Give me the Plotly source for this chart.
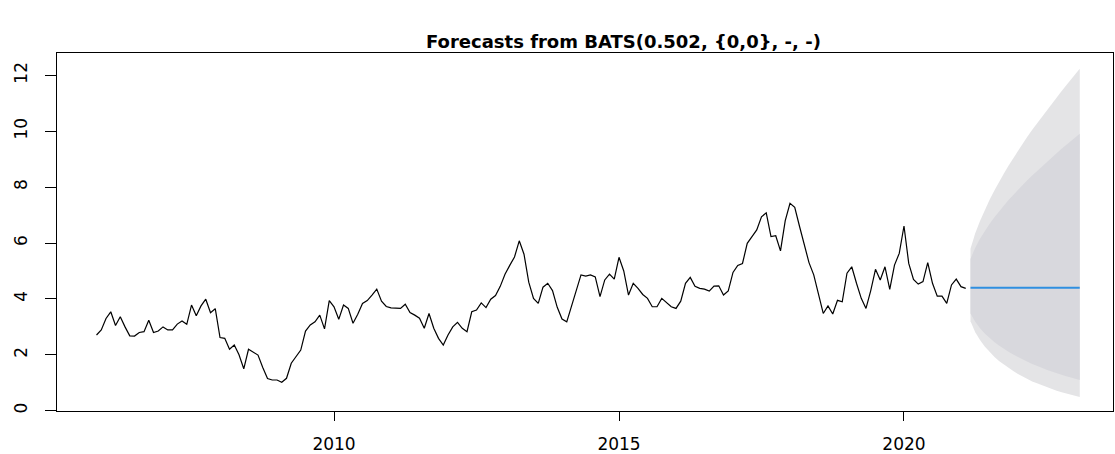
import numpy as np
import plotly.graph_objects as go

# Observed monthly series (starts Nov 2005)
start_year = 2005
start_month = 11
observed = [
    2.71, 2.89, 3.30, 3.54, 3.05, 3.36, 3.00, 2.68, 2.67, 2.80, 2.83, 3.24,
    2.80, 2.85, 3.00, 2.89, 2.89, 3.10, 3.21, 3.09, 3.78, 3.40, 3.75, 3.99,
    3.51, 3.65, 2.62, 2.59, 2.20, 2.35, 2.00, 1.50, 2.20, 2.10, 1.99, 1.55,
    1.15, 1.10, 1.10, 1.02, 1.16, 1.70, 1.95, 2.17, 2.85, 3.07, 3.18, 3.42,
    2.93, 3.94, 3.72, 3.27, 3.78, 3.66, 3.13, 3.45, 3.84, 3.94, 4.14, 4.35,
    3.92, 3.73, 3.68, 3.66, 3.66, 3.81, 3.51, 3.42, 3.31, 2.95, 3.48, 2.95,
    2.59, 2.35, 2.71, 3.00, 3.16, 2.95, 2.83, 3.54, 3.60, 3.86, 3.69, 3.99,
    4.12, 4.45, 4.88, 5.20, 5.50, 6.08, 5.60, 4.60, 4.02, 3.84, 4.42, 4.56,
    4.30, 3.70, 3.28, 3.18, 3.75, 4.26, 4.86, 4.82, 4.86, 4.79, 4.08, 4.68,
    4.89, 4.71, 5.49, 5.00, 4.14, 4.56, 4.38, 4.16, 4.02, 3.72, 3.72, 4.02,
    3.86, 3.72, 3.66, 3.92, 4.56, 4.77, 4.45, 4.38, 4.35, 4.28, 4.46, 4.47,
    4.14, 4.29, 4.95, 5.20, 5.27, 5.99, 6.23, 6.47, 6.94, 7.08, 6.23, 6.26,
    5.72, 6.80, 7.42, 7.28, 6.60, 5.90, 5.30, 4.86, 4.14, 3.48, 3.75, 3.46,
    3.95, 3.90, 4.92, 5.15, 4.56, 4.02, 3.66, 4.30, 5.06, 4.68, 5.15, 4.34,
    5.21, 5.63, 6.61, 5.27, 4.70, 4.53, 4.62, 5.30, 4.56, 4.10, 4.10, 3.84,
    4.50, 4.71, 4.44, 4.38,
]

# 24-step forecast
point_forecast = [4.40] * 24
lo80 = [3.48, 3.18, 2.95, 2.76, 2.60, 2.46, 2.33, 2.21, 2.11, 2.01, 1.92, 1.83,
        1.75, 1.67, 1.60, 1.54, 1.47, 1.41, 1.35, 1.30, 1.24, 1.19, 1.14, 1.10]
hi80 = [5.43, 5.83, 6.15, 6.42, 6.68, 6.91, 7.13, 7.34, 7.54, 7.72, 7.91, 8.09,
        8.26, 8.42, 8.58, 8.74, 8.90, 9.05, 9.20, 9.35, 9.49, 9.63, 9.77, 9.91]
lo95 = [3.20, 2.81, 2.53, 2.30, 2.10, 1.93, 1.78, 1.65, 1.53, 1.42, 1.31, 1.22,
        1.13, 1.05, 0.98, 0.91, 0.84, 0.78, 0.72, 0.67, 0.62, 0.57, 0.53, 0.49]
hi95 = [5.80, 6.35, 6.79, 7.18, 7.54, 7.87, 8.19, 8.48, 8.77, 9.04, 9.30, 9.56,
        9.81, 10.05, 10.28, 10.52, 10.75, 10.97, 11.19, 11.40, 11.61, 11.83, 12.03, 12.24]

title_text = "Forecasts from BATS(0.502, {0,0}, -, -)"
x_ticks = [2010, 2015, 2020]
y_ticks = [0, 2, 4, 6, 8, 10, 12]

t0 = start_year + (start_month - 1) / 12
t_obs = t0 + np.arange(len(observed)) / 12
t_fc = t0 + (len(observed) + np.arange(len(point_forecast))) / 12

fig = go.Figure()

def band(lo, hi, color):
    xs = list(t_fc) + list(t_fc[::-1])
    ys = list(hi) + list(lo[::-1])
    fig.add_trace(go.Scatter(x=xs, y=ys, fill="toself", fillcolor=color,
                             line=dict(width=0), mode="lines",
                             hoverinfo="skip", showlegend=False))

band(lo95, hi95, "#e4e4e6")
band(lo80, hi80, "#d8d8dd")

fig.add_trace(go.Scatter(x=t_obs, y=observed, mode="lines",
                         line=dict(color="black", width=1.2), showlegend=False))
fig.add_trace(go.Scatter(x=t_fc, y=point_forecast, mode="lines",
                         line=dict(color="#2f8fe0", width=2), showlegend=False))

W, H = 1115, 454
ML, MR, MT, MB = 57, 2, 53, 43
fig.update_layout(
    width=W, height=H,
    margin=dict(l=ML, r=MR, t=MT, b=MB),
    paper_bgcolor="white", plot_bgcolor="white",
    font=dict(family="DejaVu Sans, Arial", color="black", size=15),
)
plot_w = W - ML - MR
plot_h = H - MT - MB
fig.add_annotation(text="<b>" + title_text + "</b>",
                   xref="paper", yref="paper",
                   x=(623 - ML) / plot_w,
                   y=1 + (53 - 42) / plot_h,
                   showarrow=False, xanchor="center", yanchor="middle",
                   font=dict(family="DejaVu Sans", size=18))

fig.update_xaxes(range=[2005.14, 2023.667], tickvals=x_ticks,
                 ticktext=[str(v) for v in x_ticks], automargin=False,
                 showgrid=False, zeroline=False, showline=True, mirror=True,
                 linecolor="black", linewidth=1, ticks="outside", ticklen=9,
                 tickcolor="black", tickfont=dict(size=17),
                 ticklabelstandoff=9)
fig.update_yaxes(range=[-0.01, 12.8], tickvals=y_ticks,
                 ticktext=[str(v) for v in y_ticks], automargin=False,
                 showgrid=False, zeroline=False, showline=True, mirror=True,
                 linecolor="black", linewidth=1, ticks="outside", ticklen=11,
                 tickcolor="black", tickangle=-90, tickfont=dict(size=17),
                 ticklabelstandoff=11)

fig.write_html(
    "out.html",
    config={"displayModeBar": False},
    post_script="document.body.style.margin='0';document.body.style.overflow='hidden';",
)
